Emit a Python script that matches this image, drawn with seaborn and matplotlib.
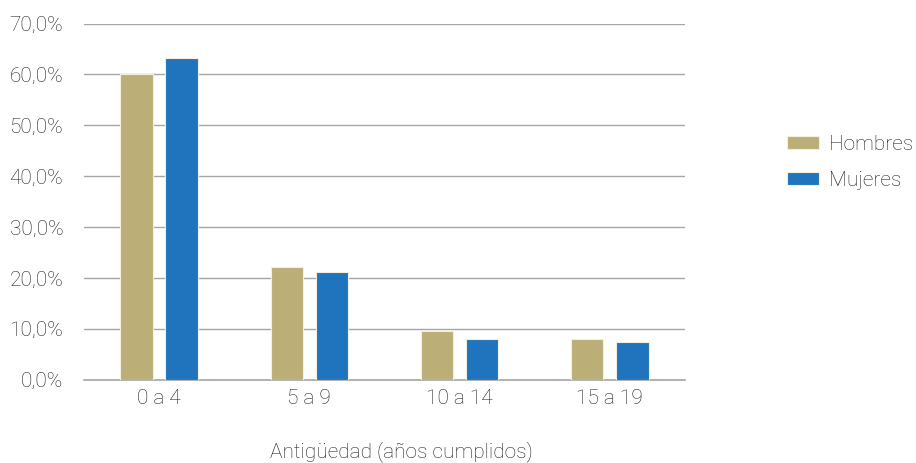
import pandas as pd
import matplotlib.pyplot as plt
import seaborn as sns
from matplotlib.ticker import FuncFormatter

# Data
categorias = ["0 a 4", "5 a 9", "10 a 14", "15 a 19"]
hombres = [60.0, 22.2, 9.6, 8.0]
mujeres = [63.2, 21.1, 8.0, 7.5]
series = ["Hombres", "Mujeres"]
colores = ["#BBAF77", "#1F74BD"]

df = pd.DataFrame({
    "cat": categorias * 2,
    "valor": hombres + mujeres,
    "sexo": [series[0]] * len(categorias) + [series[1]] * len(categorias),
})

sns.set_theme(style="white")
plt.rcParams["font.family"] = ["Roboto", "DejaVu Sans"]
plt.rcParams["font.weight"] = "light"
texto = "#222222"

fig = plt.figure(figsize=(9.16, 4.63), dpi=100)
ax = fig.add_axes([0.0917, 0.180, 0.656, 0.769])

sns.barplot(data=df, x="cat", y="valor", hue="sexo", palette=colores,
            saturation=1, width=0.6, gap=0.28, edgecolor="#F2EFE0",
            linewidth=0.8, ax=ax, zorder=3)

ax.set_ylim(0, 70)
ax.set_yticks(range(0, 71, 10))
ax.yaxis.set_major_formatter(FuncFormatter(lambda v, p: f"{v:.1f}%".replace(".", ",")))
ax.grid(axis="y", color="#A6A6A6", linewidth=1.0, zorder=0)
ax.grid(axis="x", visible=False)
for s in ["left", "right", "top"]:
    ax.spines[s].set_visible(False)
ax.spines["bottom"].set_color("#A6A6A6")
ax.spines["bottom"].set_linewidth(1.2)
ax.tick_params(axis="both", length=0, labelsize=15, colors=texto)
ax.tick_params(axis="y", pad=15)
ax.tick_params(axis="x", pad=7)
for lbl in ax.get_xticklabels() + ax.get_yticklabels():
    lbl.set_fontweight("light")
ax.set_ylabel("")
ax.set_xlabel("Antigüedad (años cumplidos)", fontsize=15, fontweight="light",
              color=texto)
ax.xaxis.set_label_coords(0.529, -0.172)

leg = ax.legend(loc="center left", bbox_to_anchor=(1.138, 0.61), frameon=False,
                fontsize=15, handlelength=1.55, handleheight=0.55,
                labelspacing=0.8, handletextpad=0.5, labelcolor=texto)
for t in leg.get_texts():
    t.set_fontweight("light")

fig.savefig("out.png", dpi=100)
